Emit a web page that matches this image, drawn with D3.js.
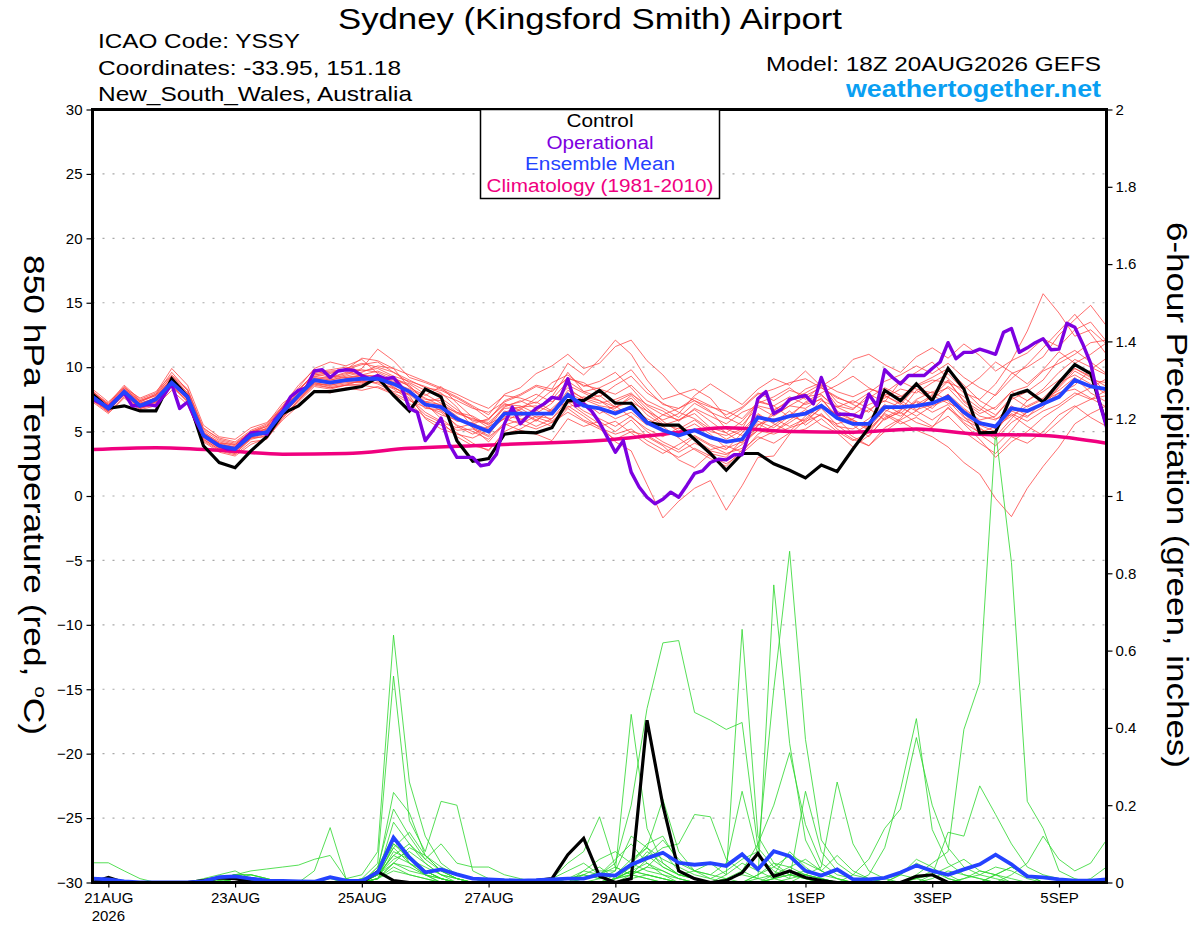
<!DOCTYPE html>
<html>
<head>
<meta charset="utf-8">
<script src="https://cdn.jsdelivr.net/npm/d3@7"></script>
<style>
  body { margin: 0; background: #fff; }
  svg { display: block; }
</style>
</head>
<body>
<div class="chart"></div>
<script>
// header texts
const title = "Sydney (Kingsford Smith) Airport";
const infoLines = ["ICAO Code: YSSY", "Coordinates: -33.95, 151.18", "New_South_Wales, Australia"];
const modelRun = "Model: 18Z 20AUG2026 GEFS";
const siteName = "weathertogether.net";
const legendItems = ["Control", "Operational", "Ensemble Mean", "Climatology (1981-2010)"];
const leftTitle = "850 hPa Temperature (red, ";
const rightTitle = "6-hour Precipitation (green, inches)";

// x axis ticks
const tickDates = ["2026-08-21", "2026-08-23", "2026-08-25", "2026-08-27", "2026-08-29", "2026-09-01", "2026-09-03", "2026-09-05"];
const tickLabels = ["21AUG", "23AUG", "25AUG", "27AUG", "29AUG", "1SEP", "3SEP", "5SEP"];
const yearLabel = "2026";

// control run, 850 hPa temperature, 6-hourly from 18Z 20AUG
const ctrlTemp = [7.9,6.8,7.0,6.6,6.6, 9.1,7.7,3.9,2.6,2.2, 3.5,4.6,6.4,7.0,8.1, 8.1,8.3,8.5,9.2,7.8,
  6.6,8.3,7.7,4.3,2.7, 2.9,4.8,4.95,4.9,5.3, 7.4,7.4,8.2,7.2,7.2, 5.7,5.5,5.5,4.4,3.3,
  2.0,3.3,3.3,2.5,2.0, 1.4,2.4,1.9,3.65,5.3, 8.2,7.4,8.7,7.4,9.9, 8.3,4.9,4.95,7.8,8.2, 7.3,8.8,10.2,9.5,5.5];

// ensemble mean temperature
const meanTemp = [7.7,6.8,8.1,7.0,7.5, 8.8,7.7,4.7,3.9,3.65, 4.7,4.95,6.5,7.8,9.0, 8.8,9.0,9.1,9.1,8.7,
  8.1,7.1,6.9,6.0,5.5, 5.0,6.4,6.4,6.4,6.4, 7.85,7.0,6.8,6.4,6.9, 5.7,5.1,4.7,5.1,4.55,
  4.2,4.4,6.1,5.85,6.2, 6.4,7.0,6.05,5.6,5.6, 6.9,6.9,7.0,7.2,7.7, 6.5,5.65,5.4,6.8,6.6, 7.15,7.7,9.0,8.5,8.3];

// operational run temperature, 3-hourly
const operTemp = [7.5,7.2,6.9,7.5,8.0,7.0,7.0,7.1, 7.0,7.8,8.7,6.8,7.3,5.9,4.7,4.3,
  3.9,3.65,3.65,4.3,4.9,4.95,4.8,5.9, 6.6,7.7,8.2,8.4,9.7,9.8,9.2,9.7,
  9.8,9.75,9.35,9.1,9.35,9.1,9.2,8.45, 6.8,6.5,4.3,5.1,6.05,4.05,3.0,3.0,
  3.0,2.35,2.45,3.25,5.6,6.9,5.6,6.25, 6.8,7.15,7.65,7.55,9.1,7.0,7.15,6.6,
  5.7,4.55,3.4,4.3,1.85,0.7,-0.1,-0.6, -0.25,0.3,-0.1,0.8,1.75,1.95,2.6,2.85,
  2.8,3.2,3.2,5.05,7.55,8.1,6.4,6.75, 7.5,7.65,7.8,7.15,9.2,7.55,6.35,6.35,
  6.3,6.1,7.9,7.0,9.8,9.2,8.7,9.35, 9.35,9.35,9.9,10.4,11.9,10.65,11.15,11.15,
  11.4,11.2,11.0,12.7,13.0,11.15,11.5,11.9, 12.2,11.35,11.4,13.4,13.1,11.8,10.3,7.5, 5.35];

// climatology, daily
const climTemp = [3.6,3.75,3.55,3.25,3.3,3.7,3.9,4.1,4.3,4.8,5.3,5.0,4.95,5.2,4.8,4.7,4.1];

// ensemble members temperature
const ensTemp = [
  [8.2,7.0,8.3,7.4,7.8, 9.3,8.0,5.0,4.1,4.0, 4.9,5.4,6.9,8.3,9.4, 9.6,9.8,10.2,10.4,9.6, 8.8,8.2,7.9,7.4,6.8, 6.5,7.3,7.8,8.5,8.1, 9.2,8.6,8.3,7.9,8.6, 7.4,6.8,6.1,7.2,6.5, 6.0,6.8,7.9,8.3,8.8, 9.1,8.4,7.6,7.2,8.0, 8.9,9.4,10.1,9.5,10.3, 9.2,8.4,7.8,9.1,10.2, 11.5,12.8,14.1,12.6,11.0],
  [7.5,6.6,7.9,6.8,7.2, 8.5,7.4,4.4,3.6,3.3, 4.5,4.6,6.0,7.4,8.7, 8.6,8.9,8.8,9.0,8.5, 7.6,6.5,5.8,4.6,3.9, 3.6,4.8,5.2,5.9,6.7, 7.3,6.4,5.6,4.2,3.5, 0.9,-1.7,-0.4,0.6,1.2, -1.1,0.8,3.0,3.1,4.8, 5.9,6.8,5.5,4.6,3.9, 5.3,6.0,7.4,6.8,7.9, 6.2,4.8,3.9,5.1,6.6, 7.2,8.4,9.7,9.0,8.8],
  [7.9,6.9,8.0,7.2,7.6, 9.0,7.9,4.6,3.8,3.4, 4.5,5.1,6.7,7.9,9.2, 9.0,9.3,9.6,10.1,9.9, 8.4,7.8,8.5,7.2,6.1, 5.3,6.9,7.4,6.8,7.7, 9.6,8.1,7.7,8.6,9.3, 8.0,7.2,6.5,6.0,5.2, 4.4,5.1,6.4,5.6,5.0, 6.2,7.4,6.9,6.3,7.1, 7.6,8.3,8.0,8.8,9.5, 8.2,7.0,6.3,7.5,8.1, 9.0,10.6,11.3,10.4,9.5],
  [7.6,6.5,8.2,6.9,7.4, 8.7,7.5,4.9,4.0,3.8, 4.9,5.0,6.3,7.6,8.8, 8.5,8.7,8.9,9.4,8.8, 8.3,7.6,7.0,6.5,5.9, 5.6,6.2,6.0,5.4,6.0, 7.2,7.7,7.4,6.9,7.6, 6.3,5.5,5.9,6.7,5.8, 4.9,4.1,5.5,6.3,7.0, 7.7,7.9,6.6,5.9,5.2, 6.4,5.8,5.1,4.6,3.8, 2.6,1.7,-0.2,-1.6,0.6, 2.3,3.8,5.6,6.4,7.0],
  [7.4,6.7,7.8,7.0,7.3, 8.6,7.3,4.3,3.5,3.2, 4.2,4.4,6.1,7.3,8.5, 8.3,8.6,9.0,8.7,8.1, 7.9,7.3,7.6,6.7,5.8, 5.9,7.4,7.9,8.6,8.3, 10.3,9.4,10.6,12.1,11.0, 9.0,7.5,7.9,8.3,7.6, 6.1,5.5,6.9,6.2,7.0, 6.8,7.6,6.0,4.8,5.6, 7.8,7.2,6.6,7.9,8.4, 7.1,6.2,5.9,7.0,6.2, 6.9,8.5,9.9,9.3,8.0],
  [8.0,7.1,8.4,7.3,7.9, 9.6,8.2,5.2,4.5,4.2, 5.1,5.6,7.2,8.1,9.6, 9.8,10.0,9.7,9.9,9.3, 8.9,8.5,8.0,6.9,5.3, 4.2,5.6,5.1,4.8,4.3, 6.0,5.4,5.8,5.0,5.9, 4.6,3.9,2.8,2.2,3.3, 3.0,4.4,5.8,5.3,6.2, 5.8,6.3,5.4,5.2,6.0, 7.1,6.4,7.5,8.1,7.4, 6.1,5.5,5.0,6.6,6.1, 7.4,8.0,8.6,9.8,10.7],
  [7.7,6.8,8.0,7.1,7.5, 8.9,7.8,4.8,3.9,3.7, 4.8,5.2,6.6,7.9,9.1, 9.2,9.5,9.8,9.6,9.0, 8.6,7.3,6.6,5.8,5.7, 4.9,6.1,6.7,7.6,8.8, 9.4,8.5,8.9,9.6,8.4, 7.0,6.3,5.9,6.4,5.3, 4.9,5.8,7.2,7.7,8.4, 7.5,8.6,7.0,6.7,7.9, 7.3,8.9,9.6,10.4,9.1, 8.0,7.5,8.7,10.5,12.8, 15.7,14.2,12.4,12.9,11.8],
  [8.1,7.2,8.6,7.5,8.0, 9.9,8.6,5.5,4.6,4.4, 5.3,5.7,6.9,8.4,9.9, 10.4,10.1,10.6,9.5,8.4, 7.8,6.0,5.2,4.8,4.5, 5.1,6.6,6.2,6.7,5.8, 6.9,7.3,6.4,7.0,6.1, 5.2,4.6,5.3,4.4,3.6, 3.9,3.4,4.8,5.5,6.3, 7.2,7.8,6.9,7.4,6.8, 5.9,6.6,8.2,7.5,8.5, 7.7,6.8,6.0,6.3,5.4, 4.7,5.8,6.9,7.5,8.2],
  [7.8,6.9,8.1,7.0,7.7, 9.1,8.0,4.6,3.9,3.5, 4.6,5.3,6.8,8.0,9.3, 9.1,9.4,9.9,11.4,10.5, 9.2,8.8,8.3,7.7,7.0, 6.3,7.9,8.4,9.5,10.1, 11.0,9.9,10.3,11.6,12.1, 10.5,9.4,8.0,7.4,6.9, 6.6,6.0,7.3,7.0,6.1, 7.3,8.0,8.6,9.3,8.4, 7.8,7.1,8.5,9.0,8.8, 8.3,9.2,10.4,9.6,8.7, 9.8,11.2,10.3,11.0,11.9],
  [7.3,6.4,7.6,6.7,7.0, 8.2,7.1,4.2,3.4,3.1, 4.0,4.5,5.9,7.0,8.2, 8.0,8.4,8.2,8.5,8.0, 7.4,6.9,6.5,5.5,5.0, 4.4,5.7,6.5,5.8,6.8, 7.9,7.1,6.7,6.0,6.5, 5.5,6.3,6.8,7.4,6.6, 5.2,4.7,5.6,5.0,5.7, 6.5,5.5,4.9,3.8,4.7, 6.0,6.5,5.7,5.3,6.9, 5.6,4.4,3.0,4.2,5.0, 6.1,6.9,7.8,8.4,9.1],
  [8.3,7.3,8.4,7.6,8.1, 9.4,8.3,5.3,4.4,4.1, 5.0,5.5,7.0,8.6,9.8, 9.3,9.2,9.4,9.3,9.1, 8.7,7.9,7.2,6.4,6.0, 5.7,6.8,6.9,7.0,6.5, 8.2,7.6,7.2,7.5,8.0, 6.8,5.8,5.0,5.6,4.8, 3.7,4.2,5.1,6.6,7.5, 8.0,8.7,7.3,6.8,7.6, 8.4,7.8,6.9,7.7,8.9, 7.4,6.6,7.9,9.5,10.0, 10.8,12.5,13.7,14.8,13.2],
  [7.6,6.6,8.0,6.9,7.3, 8.8,7.6,4.5,3.7,3.6, 4.7,4.8,6.2,7.7,8.9, 8.7,9.1,9.2,9.1,8.7, 8.2,7.0,6.3,5.9,5.6, 5.2,6.0,5.6,6.2,6.0, 7.5,6.6,6.0,5.4,6.2, 5.0,4.2,3.6,4.6,3.9, 3.3,3.7,5.5,6.0,5.4, 6.0,7.1,6.3,5.5,4.6, 6.1,6.7,7.3,6.5,7.1, 5.7,4.9,5.4,6.2,7.0, 7.6,8.8,9.4,8.7,7.9],
  [7.7,6.8,8.1,7.1,7.5, 8.8,7.7,4.7,4.0,3.7, 4.8,5.0,6.5,7.8,9.0, 9.0,9.2,9.3,9.3,8.9, 8.2,7.3,7.1,6.2,5.3, 4.7,6.5,6.9,7.3,6.6, 8.0,7.4,7.8,6.9,7.3, 6.6,5.9,6.4,7.8,8.7, 7.9,7.1,8.3,9.1,8.6, 9.7,8.5,9.3,10.6,11.0, 10.2,9.6,10.8,11.5,10.7, 11.8,10.9,9.7,10.5,11.1, 12.2,11.6,12.9,13.5,12.0],
  [7.9,7.0,8.3,7.2,7.6, 9.2,7.8,4.9,4.2,3.9, 5.0,5.2,6.7,8.0,9.3, 9.5,9.9,10.3,10.0,9.6, 9.0,8.4,8.2,7.6,6.9, 6.0,7.1,7.0,6.4,7.2, 8.6,8.0,7.4,6.6,6.9, 6.0,5.4,4.5,3.6,2.9, 2.3,3.6,4.6,4.1,4.9, 5.2,6.0,5.0,4.3,4.9, 6.5,7.4,6.7,7.1,7.9, 6.8,5.9,6.2,7.7,6.9, 7.5,8.2,9.2,8.0,7.3],
  [7.5,6.6,7.9,6.9,7.4, 8.6,7.5,4.6,3.8,3.5, 4.6,4.9,6.3,7.6,8.8, 8.6,8.8,8.9,8.8,8.4, 7.9,6.8,6.7,5.4,4.8, 5.4,6.0,6.8,6.1,5.7, 7.0,6.2,5.3,4.8,5.2, 4.3,3.6,3.0,3.7,3.1, 2.5,3.3,4.4,5.0,5.9, 6.7,6.2,5.6,6.0,6.7, 7.4,6.9,6.2,7.0,7.5, 6.4,5.2,4.6,6.0,7.4, 8.1,9.0,9.9,9.2,8.5],
  [8.0,7.1,8.2,7.3,7.8, 9.0,7.9,4.8,4.1,3.8, 4.9,5.1,6.6,8.2,9.5, 9.2,9.6,9.4,9.7,9.2, 8.5,7.5,7.4,6.5,6.2, 5.5,7.0,7.3,7.9,7.3, 8.4,7.5,7.0,6.8,7.8, 6.6,5.6,5.2,5.9,5.0, 4.7,5.2,7.4,7.0,7.7, 7.1,7.5,6.2,5.8,5.1, 6.3,5.6,6.1,5.4,6.2, 5.0,4.1,3.3,4.6,4.1, 5.0,6.3,7.0,6.1,5.4],
  [7.6,6.7,7.9,6.8,7.3, 8.7,7.6,4.6,3.7,3.5, 4.5,4.8,6.4,7.5,8.7, 8.4,8.6,8.7,9.2,8.7, 8.0,7.2,6.0,5.1,5.2, 4.6,5.5,5.9,6.6,7.5, 8.9,8.1,8.4,9.0,9.8, 8.3,7.1,6.8,7.6,7.0, 6.3,6.9,8.0,7.4,8.2, 7.8,8.4,7.7,7.1,6.5, 7.9,7.7,8.6,9.2,9.9, 8.6,7.4,6.7,8.1,8.5, 9.7,10.3,11.0,11.9,12.1],
  [7.8,6.9,8.2,7.1,7.6, 9.0,7.8,4.7,3.8,3.6, 4.7,5.0,6.4,7.8,9.1, 8.9,9.1,9.4,8.9,8.3, 7.5,6.3,5.7,5.3,5.6, 6.0,7.2,6.6,5.9,5.4, 6.8,5.9,5.4,5.8,4.9, 4.0,3.3,4.0,4.7,4.0, 3.6,4.9,6.3,5.7,6.6, 5.5,6.4,5.2,4.4,3.9, 5.0,5.9,6.6,5.9,6.8, 5.9,5.3,4.4,5.7,6.5, 7.1,8.0,8.3,7.6,6.9],
  [8.1,7.1,8.5,7.4,7.9, 9.3,8.2,5.1,4.3,4.0, 5.0,5.4,6.9,8.2,9.5, 9.7,9.8,10.7,10.5,9.9, 9.4,8.9,8.4,7.9,7.3, 6.8,7.8,7.6,7.2,8.2, 9.1,8.8,8.0,7.3,7.9, 7.1,6.6,5.8,6.8,6.2, 5.6,6.5,7.0,6.7,7.3, 8.3,8.8,8.1,7.7,8.3, 8.0,8.9,8.3,8.0,9.0, 7.3,6.4,6.9,8.1,7.4, 8.3,9.6,10.6,10.0,9.4],
  [7.4,6.5,7.7,6.8,7.1, 8.5,7.3,4.4,3.6,3.3, 4.4,4.7,6.2,7.4,8.6, 8.4,8.6,8.6,8.4,7.9, 7.2,6.1,5.5,4.9,4.1, 3.5,5.0,5.6,5.2,5.7, 6.5,5.8,5.2,4.4,5.0, 4.7,4.0,3.4,4.1,3.5, 3.2,4.0,5.1,4.8,5.3, 5.7,6.9,6.4,5.9,5.3, 6.7,6.2,7.1,7.8,7.2, 6.7,5.8,5.2,6.4,5.8, 6.6,7.1,8.0,7.5,7.8]
];

// 6-hour precipitation (inches): control, mean, members
const ctrlPcp = [0,0.013,0,0,0, 0,0,0.005,0.012,0.01, 0.002,0,0,0,0, 0,0,0,0.028,0.005, 0,0,0,0,0, 0,0,0.002,0.005,0.01,
  0.072,0.114,0.016,0,0.01, 0.42,0.2,0.03,0.01,0, 0.005,0.025,0.075,0.016,0.03, 0.013,0.005,0,0,0, 0,0,0.016,0.02,0, 0,0,0,0,0, 0,0,0,0,0];
const meanPcp = [0.01,0.008,0.003,0,0, 0,0,0.003,0.014,0.016, 0.01,0.005,0.004,0.003,0.002, 0.014,0.005,0.004,0.026,0.116,
  0.065,0.026,0.034,0.021,0.01, 0.008,0.006,0.005,0.006,0.008, 0.01,0.01,0.021,0.018,0.046, 0.063,0.077,0.051,0.046,0.05,
  0.043,0.073,0.034,0.081,0.068, 0.03,0.018,0.034,0.008,0.008, 0.012,0.026,0.044,0.03,0.02, 0.034,0.047,0.072,0.047,0.016, 0.013,0.008,0.005,0.005,0.008];
const ensPcp = [
  [0,0,0,0,0, 0,0,0,0.01,0.02, 0.01,0,0,0,0, 0,0.01,0.02,0.08,0.64, 0.26,0.12,0.05,0.02,0.01, 0,0,0,0,0, 0,0.02,0.04,0.01,0.03, 0.08,0.05,0.02,0.01,0, 0.02,0.05,0.03,0.01,0, 0,0,0,0,0, 0,0,0,0,0, 0.01,0.03,0.02,0,0, 0,0,0,0,0],
  [0,0,0,0,0, 0,0,0.01,0.02,0.03, 0.01,0,0,0,0, 0,0,0.01,0.05,0.534, 0.16,0.08,0.21,0.2,0.03, 0.01,0,0,0,0, 0.01,0.03,0.02,0.06,0.1, 0.05,0.02,0,0,0, 0,0,0.02,0.05,0.04, 0.02,0.01,0,0,0, 0,0.02,0.05,0.03,0.01, 0,0,0.02,0.04,0.02, 0,0,0,0,0],
  [0,0,0,0,0, 0,0,0,0.005,0.01, 0.005,0,0,0,0, 0,0,0,0.01,0.1, 0.06,0.03,0.01,0,0, 0,0,0,0,0.01, 0.03,0.05,0.02,0.05,0.2, 0.45,0.62,0.626,0.44,0.42, 0.396,0.414,0.09,0.04,0.02, 0.01,0,0,0,0, 0,0,0,0.01,0.03, 0.02,0.01,0,0,0, 0,0,0,0,0],
  [0,0,0,0,0, 0,0,0,0.01,0.02, 0.01,0,0,0,0, 0.01,0,0,0.03,0.233, 0.18,0.07,0.03,0.01,0, 0,0,0,0,0, 0,0.01,0.03,0.03,0.435, 0.14,0.05,0.02,0.01,0, 0,0,0,0.02,0.08, 0.04,0.01,0,0,0, 0,0,0,0,0, 0,0,0,0,0, 0,0,0,0,0],
  [0,0,0,0,0, 0,0,0,0,0.01, 0.02,0.01,0,0,0, 0,0,0,0.02,0.156, 0.1,0.05,0.02,0.01,0, 0,0,0,0,0, 0,0,0.01,0.02,0.06, 0.09,0.04,0.02,0.03,0.05, 0.02,0.655,0.12,0.05,0.02, 0.01,0,0,0,0, 0,0.02,0.06,0.04,0.01, 0,0,0,0,0, 0,0,0,0,0],
  [0,0,0,0,0, 0,0,0,0.01,0.01, 0.01,0,0,0,0, 0,0,0,0.04,0.12, 0.05,0.03,0.01,0,0, 0,0,0,0,0, 0,0,0,0,0.02, 0.04,0.08,0.03,0.01,0, 0.01,0.02,0.01,0.77,0.36, 0.11,0.03,0.01,0,0, 0,0,0,0,0, 0,0,0,0,0, 0,0,0,0,0],
  [0,0,0,0,0, 0,0,0,0,0, 0,0,0,0,0, 0,0,0,0.02,0.09, 0.13,0.07,0.03,0.01,0, 0,0,0,0,0, 0.01,0.02,0.01,0.03,0.12, 0.09,0.06,0.04,0.02,0.01, 0.03,0.06,0.08,0.5,0.857, 0.37,0.11,0.05,0.02,0.01, 0,0,0,0,0, 0,0,0,0,0, 0,0,0,0,0],
  [0,0,0,0,0, 0,0,0,0.01,0.01, 0,0,0,0,0, 0,0,0,0.01,0.08, 0.06,0.04,0.02,0,0, 0,0,0,0,0, 0,0,0,0.01,0.04, 0.07,0.04,0.02,0.01,0, 0,0,0.01,0.02,0.04, 0.06,0.03,0.01,0,0.02, 0.09,0.24,0.424,0.137,0.05, 0.02,0.01,0,0,0, 0,0,0,0,0],
  [0,0,0,0,0, 0,0,0,0.005,0.01, 0.01,0,0,0,0, 0,0,0,0.03,0.11, 0.07,0.03,0.01,0,0, 0,0,0,0,0, 0,0,0,0.02,0.05, 0.03,0.02,0.01,0,0, 0,0,0,0.01,0.03, 0.02,0.01,0,0.02,0.06, 0.14,0.19,0.375,0.2,0.09, 0.04,0.02,0.01,0,0, 0,0,0,0,0],
  [0,0,0,0,0, 0,0,0,0,0.01, 0,0,0,0,0, 0,0,0,0.01,0.05, 0.04,0.02,0,0,0, 0,0,0,0,0, 0,0,0,0.01,0.03, 0.02,0.01,0,0,0, 0,0,0,0,0.01, 0.02,0.01,0,0,0, 0,0,0.02,0.05,0.08, 0.396,0.517,1.168,0.828,0.21, 0.14,0.03,0.01,0,0],
  [0,0,0,0,0, 0,0,0,0.01,0.02, 0.01,0,0,0,0, 0,0,0,0.02,0.07, 0.05,0.02,0.01,0,0, 0,0,0,0,0, 0,0.01,0.02,0.04,0.02, 0.01,0,0,0,0, 0,0,0,0.01,0.02, 0.01,0,0,0,0, 0,0,0,0.02,0.13, 0.12,0.25,0.176,0.1,0.04, 0.02,0.01,0,0,0],
  [0.051,0.051,0.03,0.01,0, 0,0,0,0.01,0.02, 0.02,0.01,0,0,0, 0,0,0,0.02,0.06, 0.08,0.05,0.02,0.01,0, 0,0,0,0,0, 0,0,0,0.01,0.02, 0.01,0,0,0,0, 0,0,0,0,0, 0.02,0.04,0.26,0.1,0.03, 0.01,0,0,0,0, 0,0,0,0,0, 0,0,0,0,0],
  [0,0.01,0,0,0, 0,0,0,0,0.01, 0.01,0,0,0,0, 0,0,0,0.01,0.05, 0.03,0.02,0,0,0, 0,0,0,0,0.01, 0.05,0.08,0.17,0.04,0.02, 0.06,0.09,0.1,0.176,0.17, 0.06,0.03,0.01,0,0, 0,0,0,0,0, 0,0,0,0,0, 0,0,0,0,0, 0,0,0,0,0],
  [0,0,0,0,0, 0,0,0,0,0.01, 0.01,0,0,0,0, 0,0,0,0.01,0.04, 0.02,0.01,0,0,0, 0,0,0,0,0, 0.01,0.02,0.01,0.02,0.05, 0.09,0.215,0.08,0.03,0.02, 0.05,0.236,0.07,0.03,0.01, 0.236,0.08,0.03,0.01,0, 0,0,0,0,0, 0,0,0,0,0, 0,0,0,0,0],
  [0,0,0,0,0, 0,0,0,0.01,0.01, 0,0,0,0,0, 0,0,0,0.02,0.09, 0.05,0.02,0.01,0,0, 0,0,0,0,0, 0,0,0,0.01,0.03, 0.05,0.03,0.01,0,0, 0.01,0.03,0.1,0.2,0.336, 0.15,0.05,0.02,0.01,0, 0,0,0,0,0, 0,0,0,0,0, 0,0,0,0,0],
  [0,0,0,0,0, 0,0,0,0,0.01, 0.01,0,0,0,0, 0,0,0,0.01,0.03, 0.02,0.01,0,0,0, 0,0,0,0,0, 0,0,0,0,0.01, 0.02,0.01,0,0,0, 0,0,0,0,0, 0,0,0,0,0, 0,0,0,0,0, 0,0,0,0.02,0.05, 0.12,0.06,0.03,0.05,0.11],
  [0,0,0,0,0, 0,0,0,0.01,0.02, 0.01,0,0,0,0.03, 0.142,0.01,0,0.04,0.19, 0.12,0.06,0.03,0.01,0, 0,0,0,0,0, 0,0,0,0.01,0.03, 0.02,0.01,0,0,0, 0,0,0,0,0, 0,0,0,0,0, 0,0,0,0,0, 0,0,0.02,0.04,0.02, 0,0,0,0,0],
  [0,0,0,0,0, 0,0,0,0.01,0.02, 0.03,0.035,0.04,0.045,0.06, 0.07,0.01,0,0.03,0.1, 0.07,0.03,0.01,0,0, 0,0,0,0,0, 0,0,0,0.01,0.02, 0.04,0.03,0.01,0,0, 0,0,0,0,0, 0,0,0,0,0, 0,0,0.01,0.03,0.02, 0,0,0,0,0, 0,0,0,0,0],
  [0,0,0,0,0, 0,0,0.005,0.01,0.015, 0.01,0,0,0,0, 0,0,0.01,0.02,0.07, 0.1,0.06,0.1,0.05,0.04, 0.04,0.02,0.01,0,0, 0,0.03,0.06,0.08,0.05, 0.1,0.12,0.05,0.03,0.02, 0.01,0,0,0.01,0.02, 0.03,0.02,0.01,0,0, 0.01,0.02,0.01,0,0, 0.01,0.02,0.04,0.03,0.01, 0,0,0,0,0],
  [0,0,0,0,0, 0,0,0,0.01,0.02, 0.02,0.01,0,0,0, 0,0,0,0.02,0.05, 0.09,0.07,0.04,0.02,0.01, 0,0,0,0,0, 0,0.01,0.02,0.02,0.04, 0.07,0.11,0.06,0.03,0.01, 0,0,0.02,0.04,0.07, 0.05,0.03,0.07,0.03,0.01, 0,0,0.01,0.02,0.04, 0.06,0.03,0.02,0.01,0, 0,0,0,0.01,0.04]
];

// colors
const colCtrl = "#000000", colOper = "#7d00e0", colMean = "#2442ff", colClim = "#f0007f";
const colEnsT = "#ff4040", colEnsP = "#2ed82e", colSite = "#0a9ff2";
const legendColors = [colCtrl, colOper, colMean, colClim];
const legendWidths = [67, 107, 150, 227];

// run times
const HOUR = 3600 * 1000;
const start = Date.UTC(2026, 7, 20, 18);
const end = start + 384 * HOUR;
const at = (step) => (d, i) => new Date(start + i * step * HOUR);

// size of the chart
const W = 1200, H = 927;
const plot = { left: 92.5, right: 1106.5, top: 109.5, bottom: 882.5 };
const font = "'Liberation Sans', Arial, sans-serif";

const svg = d3.select("div.chart")
  .append("svg")
  .attr("width", W)
  .attr("height", H)
  .style("font-family", font);

const x = d3.scaleUtc().domain([start, end]).range([plot.left, plot.right]);
const yT = d3.scaleLinear().domain([-30, 30]).range([plot.bottom, plot.top]);
const yP = d3.scaleLinear().domain([0, 2]).range([plot.bottom, plot.top]);

svg.append("clipPath").attr("id", "clip")
  .append("rect")
  .attr("x", plot.left).attr("y", plot.top)
  .attr("width", plot.right - plot.left).attr("height", plot.bottom - plot.top);

// dotted grid lines
svg.append("g")
  .selectAll("line")
  .data(d3.range(-25, 26, 5))
  .join("line")
  .attr("x1", plot.left).attr("x2", plot.right)
  .attr("y1", d => yT(d)).attr("y2", d => yT(d))
  .attr("stroke", "#a8a8a8")
  .attr("stroke-width", 1.2)
  .attr("stroke-dasharray", "2,8");

const g = svg.append("g").attr("clip-path", "url(#clip)");

function lineT(step) {
  return d3.line().x((d, i) => x(at(step)(d, i))).y(d => yT(d));
}
function lineP(step) {
  return d3.line().x((d, i) => x(at(step)(d, i))).y(d => yP(d));
}

// ensemble member temperatures
g.append("g")
  .selectAll("path")
  .data(ensTemp)
  .join("path")
  .attr("d", lineT(6))
  .attr("fill", "none")
  .attr("stroke", colEnsT)
  .attr("stroke-opacity", 0.85)
  .attr("stroke-width", 0.9);

// ensemble member precipitation
g.append("g")
  .selectAll("path")
  .data(ensPcp)
  .join("path")
  .attr("d", lineP(6))
  .attr("fill", "none")
  .attr("stroke", colEnsP)
  .attr("stroke-opacity", 0.9)
  .attr("stroke-width", 0.9);

// climatology
g.append("path")
  .datum(climTemp)
  .attr("d", lineT(24).curve(d3.curveMonotoneX))
  .attr("fill", "none")
  .attr("stroke", colClim)
  .attr("stroke-width", 3.5);

// control
g.append("path").datum(ctrlTemp).attr("d", lineT(6))
  .attr("fill", "none").attr("stroke", colCtrl).attr("stroke-width", 3.2);
g.append("path").datum(ctrlPcp).attr("d", lineP(6))
  .attr("fill", "none").attr("stroke", colCtrl).attr("stroke-width", 3.2);

// operational
g.append("path").datum(operTemp).attr("d", lineT(3))
  .attr("fill", "none").attr("stroke", colOper).attr("stroke-width", 3.4)
  .attr("stroke-linejoin", "round");

// ensemble mean
g.append("path").datum(meanTemp).attr("d", lineT(6))
  .attr("fill", "none").attr("stroke", colMean).attr("stroke-width", 3.8);
g.append("path").datum(meanPcp).attr("d", lineP(6))
  .attr("fill", "none").attr("stroke", colMean).attr("stroke-width", 3.8);

// axes
const leftAxis = svg.append("g")
  .attr("transform", `translate(${plot.left},0)`)
  .call(d3.axisLeft(yT).tickValues(d3.range(-30, 31, 5)).tickSize(6).tickSizeOuter(0).tickPadding(4));
const rightAxis = svg.append("g")
  .attr("transform", `translate(${plot.right},0)`)
  .call(d3.axisRight(yP).tickValues(d3.range(0, 11).map(d => d / 5)).tickSize(6).tickSizeOuter(0).tickPadding(3)
    .tickFormat(d => String(+d.toFixed(1))));
const bottomAxis = svg.append("g")
  .attr("transform", `translate(0,${plot.bottom})`)
  .call(d3.axisBottom(x).tickValues(tickDates.map(d => new Date(d + "T00:00:00Z"))).tickSize(5).tickSizeOuter(0).tickPadding(5)
    .tickFormat((d, i) => tickLabels[i]));

[leftAxis, rightAxis, bottomAxis].forEach(a => {
  a.select(".domain").remove();
  a.selectAll(".tick line").attr("stroke", "#000").attr("stroke-width", 1.2);
  a.selectAll("text").attr("fill", "#000").style("font-family", font).attr("font-size", 15);
});

svg.append("text")
  .attr("x", x(new Date(tickDates[0] + "T00:00:00Z")))
  .attr("y", 921)
  .attr("text-anchor", "middle")
  .attr("font-size", 15)
  .text(yearLabel);

// frame
svg.append("rect")
  .attr("x", plot.left).attr("y", plot.top)
  .attr("width", plot.right - plot.left).attr("height", plot.bottom - plot.top)
  .attr("fill", "none")
  .attr("stroke", "#000")
  .attr("stroke-width", 3);

// legend
svg.append("rect")
  .attr("x", 480.5).attr("y", plot.top)
  .attr("width", 239).attr("height", 89)
  .attr("fill", "#fff")
  .attr("stroke", "#000")
  .attr("stroke-width", 1.5);
svg.append("g")
  .selectAll("text")
  .data(legendItems)
  .join("text")
  .attr("x", 600)
  .attr("y", (d, i) => 127 + i * 21.5)
  .attr("text-anchor", "middle")
  .attr("font-size", 18)
  .attr("textLength", (d, i) => legendWidths[i]).attr("lengthAdjust", "spacingAndGlyphs")
  .attr("fill", (d, i) => legendColors[i])
  .text(d => d);

// titles
svg.append("text")
  .attr("x", 590).attr("y", 29)
  .attr("text-anchor", "middle")
  .attr("font-size", 29)
  .attr("textLength", 504).attr("lengthAdjust", "spacingAndGlyphs")
  .text(title);

const infoWidths = [202, 303, 314];
svg.append("g")
  .selectAll("text")
  .data(infoLines)
  .join("text")
  .attr("x", 98)
  .attr("y", (d, i) => 48 + i * 26.5)
  .attr("font-size", 21)
  .attr("textLength", (d, i) => infoWidths[i]).attr("lengthAdjust", "spacingAndGlyphs")
  .text(d => d);

svg.append("text")
  .attr("x", 1101).attr("y", 71)
  .attr("text-anchor", "end")
  .attr("font-size", 21)
  .attr("textLength", 335).attr("lengthAdjust", "spacingAndGlyphs")
  .text(modelRun);

svg.append("text")
  .attr("x", 1101).attr("y", 97)
  .attr("text-anchor", "end")
  .attr("font-size", 23)
  .attr("font-weight", "bold")
  .attr("fill", colSite)
  .attr("textLength", 255).attr("lengthAdjust", "spacingAndGlyphs")
  .text(siteName);

// axis titles
const lt = svg.append("text")
  .attr("transform", "translate(24,495) rotate(90)")
  .attr("text-anchor", "middle")
  .attr("font-size", 29)
  .attr("textLength", 480).attr("lengthAdjust", "spacingAndGlyphs");
lt.append("tspan").text(leftTitle);
lt.append("tspan").attr("font-size", 17).attr("dy", -11).text("o");
lt.append("tspan").attr("dy", 11).text("C)");

svg.append("text")
  .attr("transform", "translate(1167,495) rotate(90)")
  .attr("text-anchor", "middle")
  .attr("font-size", 29)
  .attr("textLength", 546).attr("lengthAdjust", "spacingAndGlyphs")
  .text(rightTitle);
</script>
</body>
</html>
